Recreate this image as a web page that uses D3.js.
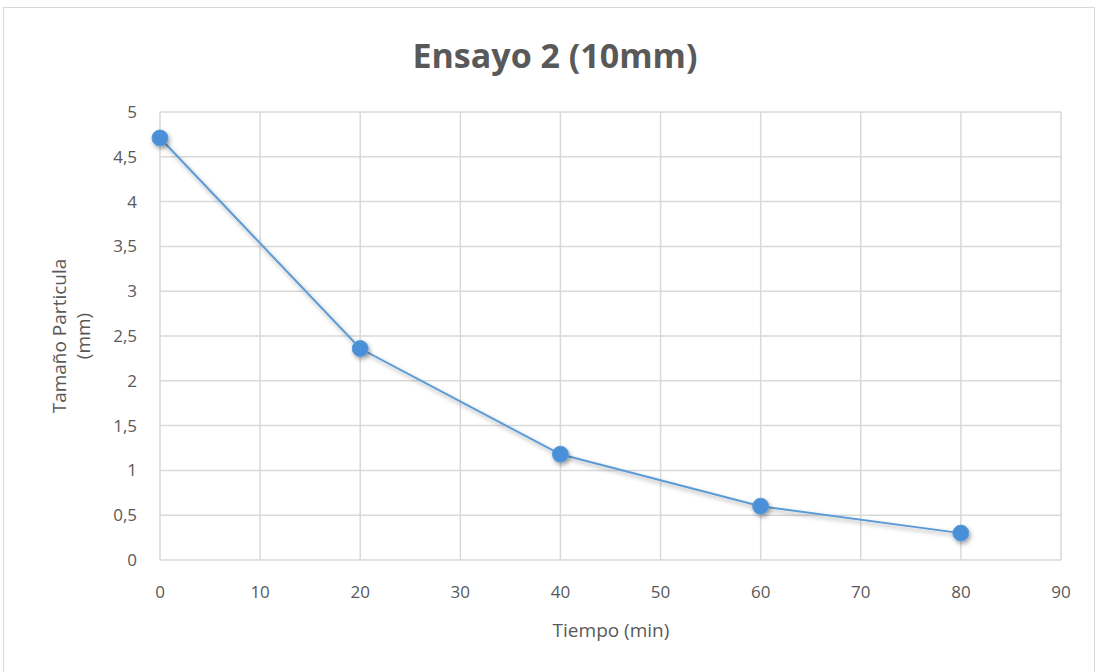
<!DOCTYPE html>
<html><head><meta charset="utf-8">
<script src="https://d3js.org/d3.v7.min.js"></script>
<style>body{margin:0;background:#fff}svg{display:block}</style>
</head><body>
<script>
const tiempo = [0, 20, 40, 60, 80];
const tamano = [4.71, 2.36, 1.18, 0.6, 0.3];
const xTicks = [0,10,20,30,40,50,60,70,80,90];
const yTicks = [0,0.5,1,1.5,2,2.5,3,3.5,4,4.5,5];
const title = "Ensayo 2 (10mm)";
const xTitle = "Tiempo (min)";
const yTitle1 = "Tamaño Particula";
const yTitle2 = "(mm)";

const W=1099,H=672;
const svg=d3.select("body").append("svg").attr("width",W).attr("height",H);
const defs=svg.append("defs");
const f=defs.append("filter").attr("id","sh").attr("x","-50%").attr("y","-50%").attr("width","200%").attr("height","200%");
f.append("feDropShadow").attr("dx",1.5).attr("dy",2.5).attr("stdDeviation",2).attr("flood-color","#000").attr("flood-opacity",0.35);

svg.append("rect").attr("x",3.5).attr("y",7.5).attr("width",1091).attr("height",670).attr("fill","#fff").attr("stroke","#d9d9d9");

const x=d3.scaleLinear().domain([0,90]).range([160,1061]);
const y=d3.scaleLinear().domain([0,5]).range([560,112]);
const fmt=d=>String(d).replace(".",",");
const g=svg.append("g");
g.selectAll(".hg").data(yTicks).join("line").attr("x1",x(0)).attr("x2",x(90)).attr("y1",d=>y(d)).attr("y2",d=>y(d)).attr("stroke","#d9d9d9").attr("stroke-width",1.5);
g.selectAll(".vg").data(xTicks).join("line").attr("y1",y(0)).attr("y2",y(5)).attr("x1",d=>x(d)).attr("x2",d=>x(d)).attr("stroke","#d9d9d9").attr("stroke-width",1.5);

const font="'Open Sans', sans-serif";
g.selectAll(".yl").data(yTicks).join("text").attr("x",137).attr("y",d=>y(d)).attr("dy","0.35em").attr("text-anchor","end").attr("font-family",font).attr("font-size",17).attr("fill","#595959").text(fmt);
g.selectAll(".xl").data(xTicks).join("text").attr("x",d=>x(d)).attr("y",598).attr("text-anchor","middle").attr("font-family",font).attr("font-size",17).attr("fill","#595959").text(fmt);

svg.append("text").attr("x",555).attr("y",68).attr("text-anchor","middle").attr("font-family",font).attr("font-weight","bold").attr("font-size",34).attr("fill","#595959").text(title);
svg.append("text").attr("x",611).attr("y",637).attr("text-anchor","middle").attr("font-family",font).attr("font-size",19).attr("fill","#595959").text(xTitle);
const yt=svg.append("text").attr("transform","translate(66,336) rotate(-90)").attr("text-anchor","middle").attr("font-family",font).attr("font-size",19).attr("fill","#595959");
yt.append("tspan").attr("x",0).attr("y",0).text(yTitle1);
yt.append("tspan").attr("x",0).attr("y",24).text(yTitle2);

const data=tiempo.map((t,i)=>[t,tamano[i]]);
svg.append("path").datum(data).attr("d",d3.line().x(d=>x(d[0])).y(d=>y(d[1]))).attr("fill","none").attr("stroke","#5B9BD5").attr("stroke-width",2).attr("filter","url(#sh)");
svg.selectAll(".pt").data(data).join("circle").attr("cx",d=>x(d[0])).attr("cy",d=>y(d[1])).attr("r",8).attr("fill","#4a90d9").attr("stroke","#5B9BD5").attr("stroke-width",1).attr("filter","url(#sh)");
</script>
</body></html>
